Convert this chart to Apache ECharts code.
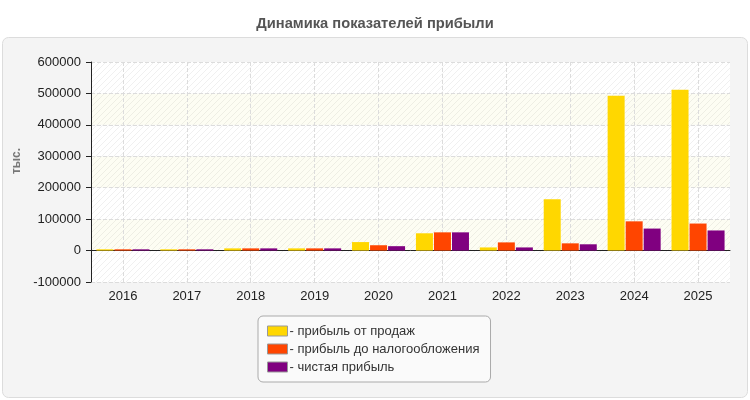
<!DOCTYPE html>
<html><head><meta charset="utf-8">
<script src="https://cdn.jsdelivr.net/npm/echarts@6/dist/echarts.min.js"></script>
<style>html,body{margin:0;padding:0;background:#fff}#c{width:750px;height:400px}</style>
</head><body><div id="c"></div>
<script>
const categories = ['2016','2017','2018','2019','2020','2021','2022','2023','2024','2025'];
const salesProfit = [4000, 4000, 7000, 7000, 27000, 55000, 10000, 163000, 493000, 512000];
const preTaxProfit = [4000, 4000, 7000, 7000, 17000, 58000, 26000, 23000, 93000, 86000];
const netProfit = [4000, 4000, 7000, 7000, 14000, 58000, 10000, 20000, 70000, 64000];
const seriesNames = ['прибыль от продаж', 'прибыль до налогообложения', 'чистая прибыль'];
const yTicks = [-100000, 0, 100000, 200000, 300000, 400000, 500000, 600000];

function makePattern(base) {
  const c = document.createElement('canvas');
  c.width = 6; c.height = 6;
  const g = c.getContext('2d');
  g.fillStyle = base; g.fillRect(0, 0, 6, 6);
  g.strokeStyle = 'rgba(0,0,0,0.06)'; g.lineWidth = 1;
  g.beginPath();
  g.moveTo(0, 6); g.lineTo(6, 0);
  g.moveTo(-3, 3); g.lineTo(3, -3);
  g.moveTo(3, 9); g.lineTo(9, 3);
  g.stroke();
  return { image: c, repeat: 'repeat' };
}

const chart = echarts.init(document.getElementById('c'));
const font = 'Arial, "Liberation Sans", sans-serif';
chart.setOption({
  animation: false,
  textStyle: { fontFamily: font },
  title: {
    text: 'Динамика показателей прибыли', left: 'center', top: 11,
    textStyle: { fontSize: 14.7, fontWeight: 'bold', color: '#555', fontFamily: font }
  },
  graphic: [{
    type: 'rect', z: -10, silent: true,
    shape: { x: 2.5, y: 37.5, width: 745, height: 360, r: 6 },
    style: { fill: '#f4f4f4', stroke: '#dcdcdc', lineWidth: 1 }
  }],
  legend: {
    orient: 'vertical', left: 258, top: 316,
    backgroundColor: '#fafafa', borderColor: '#aaa', borderWidth: 1, borderRadius: 5,
    padding: [8, 11, 8, 9], itemGap: 4, itemWidth: 20, itemHeight: 10, icon: 'rect',
    itemStyle: { borderColor: '#999', borderWidth: 1 },
    formatter: n => '- ' + n,
    textStyle: { fontSize: 13, color: '#333', fontFamily: font, lineHeight: 14, padding: [0, 0, 0, -3] },
    data: seriesNames
  },
  grid: { left: 91, right: 20, top: 62, bottom: 118, containLabel: false },
  xAxis: {
    type: 'category', data: categories, boundaryGap: true,
    axisLine: { lineStyle: { color: '#222', width: 1 } },
    axisTick: { alignWithLabel: true, length: 5, lineStyle: { color: '#222' } },
    axisLabel: { fontSize: 13, color: '#222', margin: 8 },
    splitLine: { show: true, alignWithLabel: true, lineStyle: { type: 'dashed', color: '#dcdcdc' } }
  },
  yAxis: {
    type: 'value', min: yTicks[0], max: yTicks[yTicks.length - 1], interval: 100000,
    name: 'тыс.', nameLocation: 'middle', nameGap: 65, nameRotate: 90,
    nameTextStyle: { fontSize: 12, fontWeight: 'bold', color: '#777', padding: [0, 0, 0, 22] },
    axisLine: { show: true, lineStyle: { color: '#222', width: 1 } },
    axisTick: { show: true, length: 5, lineStyle: { color: '#222' } },
    axisLabel: { fontSize: 13, color: '#222', margin: 10, formatter: v => String(v) },
    splitLine: { lineStyle: { type: 'dashed', color: '#dcdcdc' } },
    splitArea: { show: true, areaStyle: { color: [makePattern('#ffffff'), makePattern('#fdfdf3')] } }
  },
  series: [
    { name: seriesNames[0], type: 'bar', data: salesProfit, barWidth: 17, barGap: '6%', itemStyle: { color: '#ffd700' } },
    { name: seriesNames[1], type: 'bar', data: preTaxProfit, barWidth: 17, barGap: '6%', itemStyle: { color: '#ff4500' } },
    { name: seriesNames[2], type: 'bar', data: netProfit, barWidth: 17, barGap: '6%', itemStyle: { color: '#800080' } }
  ]
});
</script></body></html>
